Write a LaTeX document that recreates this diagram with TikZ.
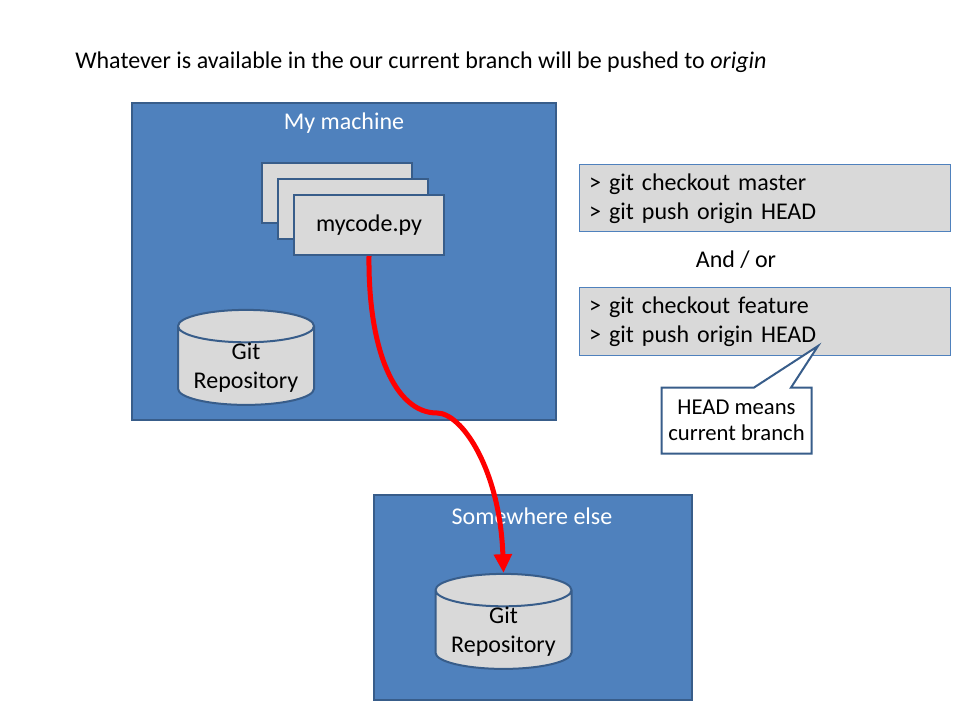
\documentclass[tikz,border=0pt]{standalone}
\usepackage{fontspec}
\setmainfont{Carlito}
\usepackage{tikz}
\usetikzlibrary{shapes.geometric, shapes.callouts, arrows.meta, positioning}
\definecolor{slideblue}{RGB}{79, 129, 189}
\definecolor{edgeblue}{RGB}{56, 93, 138}
\definecolor{filegray}{RGB}{217, 217, 217}

\begin{document}
\begin{tikzpicture}[
    x=0.75pt, y=-0.75pt,
    area/.style={rectangle, draw=edgeblue, fill=slideblue, line width=1.5pt,
                 inner sep=0pt},
    areatitle/.style={text=white, font=\fontsize{18pt}{22pt}\selectfont},
    file/.style={rectangle, draw=edgeblue, fill=filegray, line width=1.5pt,
                 minimum width=112.5pt, minimum height=45pt, inner sep=0pt,
                 font=\fontsize{18pt}{22pt}\selectfont},
    repo/.style={cylinder, shape border rotate=90, aspect=0.31,
                 draw=edgeblue, fill=filegray, line width=1.5pt,
                 minimum width=102pt, minimum height=71.25pt, inner sep=0pt,
                 font=\fontsize{18pt}{21.75pt}\selectfont},
    repotext/.style={align=center, inner sep=0pt,
                     font=\fontsize{18pt}{21.75pt}\selectfont},
    cmd/.style={rectangle, draw=slideblue, fill=filegray, line width=0.75pt,
                minimum width=278.25pt, minimum height=50.25pt,
                text width=263pt, align=left, inner sep=0pt,
                font=\fontsize{18pt}{21.75pt}\selectfont},
    note/.style={rectangle callout, draw=edgeblue, fill=white, line width=1.5pt,
                 minimum width=112.5pt, minimum height=49.5pt, inner sep=0pt,
                 callout pointer width=27.75pt, align=center,
                 font=\fontsize{17pt}{19.5pt}\selectfont},
    push/.style={draw=red, line width=3.75pt,
                 -{Triangle[width=13pt, length=14pt]}}
]
\useasboundingbox (0,0) rectangle (960,720);

\node[anchor=west, inner sep=0pt, font=\fontsize{18pt}{22pt}\selectfont] (headline) at (75,62)
    {Whatever is available in the our current branch will be pushed to \emph{origin}};

%% my machine
\node[area, minimum width=318pt, minimum height=237.75pt] (mine) at (344,261.5) {};
\node[areatitle] (minetitle) at (344,123) {My machine};
\node[file] (code1) at (337,193) {};
\node[file] (code2) at (353,209) {};
\node[file] (code3) at (369,225) {mycode.py};
\node[repo] (repo1) at (246,366) {\phantom{Repository}};
\node[repotext] (repo1text) at (246,368) {Git\\Repository};

%% somewhere else
\node[area, minimum width=238.5pt, minimum height=153.75pt] (remote) at (533,597.5) {};
\node[areatitle] (remotetitle) at (532,516) {Somewhere else};
\node[repo] (repo2) at (503.5,630) {\phantom{Repository}};
\node[repotext] (repo2text) at (503.5,632) {Git\\Repository};

%% commands
\node[cmd] (cmdmaster) at (764.5,198.5) {> git checkout master\\> git push origin HEAD};
\node[font=\fontsize{18pt}{22pt}\selectfont] (andor) at (736,260) {And / or};
\node[cmd] (cmdfeature) at (764.5,321.5) {> git checkout feature\\> git push origin HEAD};
\node[note, callout absolute pointer={(818,346)}] (headnote) at (736.5,420.5)
    {HEAD means\\current branch};

%% push
\coordinate (bend) at (437,413);
\draw[push] (code3.south) .. controls (368,350) and (395,413) .. (bend)
    .. controls (462,413) and (500,470) .. (repo2.north);

\end{tikzpicture}
\end{document}
